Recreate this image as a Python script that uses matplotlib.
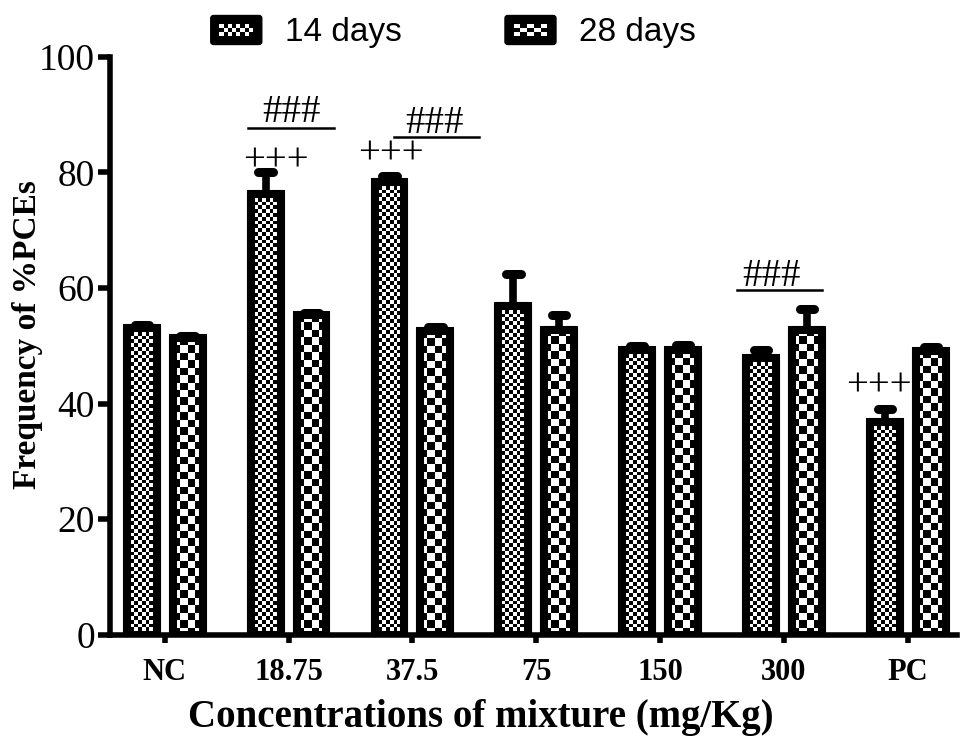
import numpy as np
import matplotlib.pyplot as plt
from matplotlib.patches import Patch, Rectangle, FancyBboxPatch
from matplotlib.legend_handler import HandlerBase

# data
groups = ["NC", "18.75", "37.5", "75", "150", "300", "PC"]
vals_14 = [53.0, 76.2, 78.3, 56.8, 49.3, 47.8, 36.8]
err_14 = [0.6, 3.8, 1.0, 5.7, 0.6, 1.4, 2.2]
vals_28 = [51.3, 55.3, 52.6, 52.8, 49.3, 52.8, 49.1]
err_28 = [0.4, 0.4, 0.6, 2.5, 0.9, 3.5, 0.6]

# significance marks: (text, x, y, line_x0, line_x1, line_y)
marks = [
    ("###", 1.02, 90.3, 0.67, 1.37, 87.7),
    ("+++", 0.90, 82.0, None, None, None),
    ("+++", 1.83, 83.2, None, None, None),
    ("###", 2.18, 88.4, 1.85, 2.54, 86.2),
    ("###", 4.90, 61.9, 4.62, 5.31, 59.7),
    ("+++", 5.77, 43.0, None, None, None),
]

serif = "Liberation Serif"
sans = "Liberation Sans"

fig = plt.figure(figsize=(9.67, 7.38), dpi=100)
ax = fig.add_axes([0.114, 0.140, 0.876, 0.783])

x = np.arange(len(groups))
off = 0.185
w = 0.24
ymax = 100
xlim = (-0.44, 6.40)
px_per_unit = 0.783 * 738 / ymax
px_per_x = 0.876 * 967 / (xlim[1] - xlim[0])
lw = 5.8


def checker(nx, ny):
    return np.indices((ny, nx)).sum(axis=0) % 2


def draw_bars(xs, vals, errs, cell):
    vals = np.array(vals)
    errs = np.array(errs)
    # error bars (upper only) with rounded caps
    ax.vlines(xs, vals, vals + errs, color="black", lw=5.5, zorder=1)
    caps = ax.hlines(vals + errs, xs - 0.058, xs + 0.058, color="black",
                     lw=6.5, zorder=1)
    caps.set_capstyle("round")
    bars = ax.bar(xs, vals, w, color="white", edgecolor="black",
                  linewidth=lw, zorder=2)
    for b, v in zip(bars, vals):
        x0 = b.get_x()
        nx = max(2, int(round(w * px_per_x / cell)))
        ny = max(2, int(round(v * px_per_unit / cell)))
        im = ax.imshow(checker(nx, ny), cmap="gray", interpolation="nearest",
                       extent=[x0, x0 + w, 0, v], aspect="auto", zorder=2.5,
                       origin="lower")
        im.set_clip_path(b)
    ax.bar(xs, vals, w, color="none", edgecolor="black", linewidth=lw,
           zorder=3, joinstyle="round")


draw_bars(x - off, vals_14, err_14, 3.8)
draw_bars(x + off, vals_28, err_28, 7.5)

for txt, tx, ty, lx0, lx1, ly in marks:
    ax.text(tx, ty, txt, ha="center", va="center", fontsize=28,
            family=serif, zorder=4)
    if lx0 is not None:
        ax.plot([lx0, lx1], [ly, ly], color="black", lw=1.8, zorder=4)

ax.set_xlim(*xlim)
ax.set_ylim(0, ymax)
ax.set_xticks(x)
ax.set_xticklabels(groups, fontsize=22, fontweight="bold", family=serif)
ax.tick_params(axis="x", length=6, width=4, pad=11)
ax.set_yticks([0, 20, 40, 60, 80, 100])
ax.tick_params(axis="y", length=9, width=4, labelsize=27, pad=2)
for lab in ax.get_yticklabels():
    lab.set_family(serif)

for s in ["top", "right"]:
    ax.spines[s].set_visible(False)
for s in ["left", "bottom"]:
    ax.spines[s].set_linewidth(4)

ax.set_xlabel("Concentrations of mixture (mg/Kg)", fontsize=28,
              fontweight="bold", family=serif, va="center")
ax.xaxis.set_label_coords(0.437, -(718 - 635) / (0.783 * 738))
ax.set_ylabel("Frequency of %PCEs", fontsize=24, fontweight="bold",
              family=serif, va="center")
ax.yaxis.set_label_coords(-(110 - 27) / (0.876 * 967), 0.519)


class HandlerChecker(HandlerBase):
    def __init__(self, ncol, nrow):
        super().__init__()
        self.ncol = ncol
        self.nrow = nrow

    def create_artists(self, legend, orig_handle, xdescent, ydescent,
                       width, height, fontsize, trans):
        arts = [FancyBboxPatch((-xdescent, -ydescent), width, height,
                               boxstyle="round,pad=0,rounding_size=2",
                               facecolor="black", edgecolor="black",
                               transform=trans)]
        ix0 = -xdescent + width * 0.17
        iy0 = -ydescent + height * 0.28
        iw = width * 0.66
        ih = height * 0.44
        cw = iw / self.ncol
        ch = ih / self.nrow
        for i in range(self.ncol):
            for j in range(self.nrow):
                if (i + j) % 2 == 0:
                    arts.append(Rectangle((ix0 + i * cw, iy0 + j * ch), cw, ch,
                                          facecolor="white", lw=0,
                                          transform=trans))
        return arts


h14 = Patch(facecolor="black")
h28 = Patch(facecolor="gray")
ax.legend([h14, h28], ["14 days", "28 days"], loc="center",
          bbox_to_anchor=(0.405, 1.043), ncol=2, frameon=False,
          prop={"family": sans, "size": 24}, handlelength=1.53,
          handleheight=0.96, columnspacing=3.1, handletextpad=0.69,
          borderpad=0,
          handler_map={h14: HandlerChecker(8, 3), h28: HandlerChecker(5, 3)})

fig.savefig("out.png", dpi=100)
